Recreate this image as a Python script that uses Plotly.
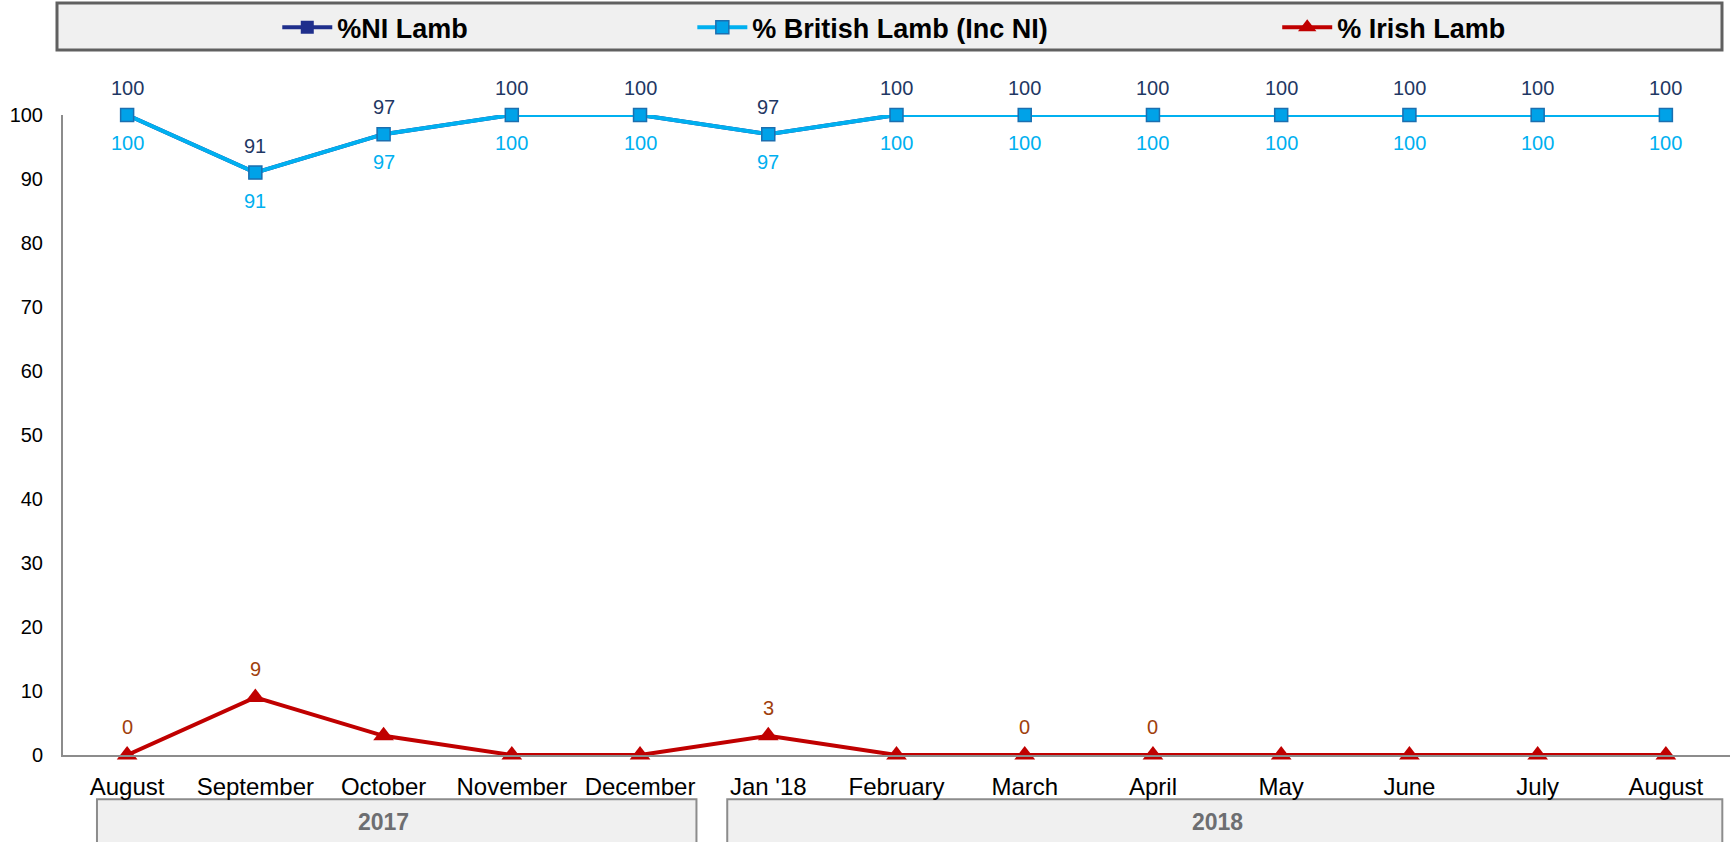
import plotly.graph_objects as go

# data
months = ["August", "September", "October", "November", "December", "Jan '18",
          "February", "March", "April", "May", "June", "July", "August"]
ni_lamb = [100, 91, 97, 100, 100, 97, 100, 100, 100, 100, 100, 100, 100]
british_lamb = [100, 91, 97, 100, 100, 97, 100, 100, 100, 100, 100, 100, 100]
irish_lamb = [0, 9, 3, 0, 0, 3, 0, 0, 0, 0, 0, 0, 0]
irish_labelled = [True, True, False, False, False, True, False, True, True, False, False, False, False]
years = ["2017", "2018"]
year_spans = [(0, 4), (5, 12)]

FONT = "Arial, Liberation Sans, sans-serif"
NAVY = "#1F2F8C"
SKY = "#00B0F0"
RED = "#C00000"

xs = list(range(len(months)))

fig = go.Figure()

fig.add_trace(go.Scatter(
    x=xs, y=ni_lamb, name="%NI Lamb", mode="lines+markers",
    line=dict(color=NAVY, width=4),
    marker=dict(symbol="square", size=13, color=NAVY),
    cliponaxis=False, legend="legend"
))
fig.add_trace(go.Scatter(
    x=xs, y=british_lamb, name="% British Lamb (Inc NI)", mode="lines+markers",
    line=dict(color=SKY, width=4),
    marker=dict(symbol="square", size=13, color="#00A2E8", line=dict(color="#1B6FB0", width=1.5)),
    cliponaxis=False, legend="legend2"
))
fig.add_trace(go.Scatter(
    x=xs, y=irish_lamb, name="% Irish Lamb", mode="lines+markers",
    line=dict(color=RED, width=4),
    marker=dict(symbol="triangle-up", size=18, color=RED),
    cliponaxis=False, legend="legend3"
))

# data labels
annotations = []
for i, v in enumerate(ni_lamb):
    annotations.append(dict(x=i, y=v, xref="x", yref="y", text=str(v), showarrow=False,
                            yshift=27, font=dict(family=FONT, size=20, color="#1F3864")))
for i, v in enumerate(british_lamb):
    annotations.append(dict(x=i, y=v, xref="x", yref="y", text=str(v), showarrow=False,
                            yshift=-28, font=dict(family=FONT, size=20, color=SKY)))
for i, v in enumerate(irish_lamb):
    if irish_labelled[i]:
        annotations.append(dict(x=i, y=v, xref="x", yref="y", text=str(v), showarrow=False,
                                yshift=28, font=dict(family=FONT, size=20, color="#A0400C")))

# year boxes under the month axis
shapes = []
left_pad = [0.235, 0.32]
for (a, b), yr, lp in zip(year_spans, years, left_pad):
    shapes.append(dict(type="rect", xref="x", yref="paper", x0=a - lp, x1=b + 0.44,
                       y0=-0.069, y1=-0.16, fillcolor="#F0F0F0",
                       line=dict(color="#8C8C8C", width=2), layer="below"))
    annotations.append(dict(x=(a + b) / 2, y=-0.105, xref="x", yref="paper", yanchor="middle",
                            text="<b>%s</b>" % yr, showarrow=False,
                            font=dict(family=FONT, size=23, color="#6D6E71")))

# legend frame
shapes.append(dict(type="rect", xref="paper", yref="paper", x0=-0.0036, x1=0.9952,
                   y0=1.1016, y1=1.175, fillcolor="#F0F0F0",
                   line=dict(color="#606060", width=3), layer="below"))

legend_style = dict(orientation="h", xref="container", yref="container", yanchor="middle",
                    y=0.967, bgcolor="rgba(0,0,0,0)", itemwidth=50,
                    font=dict(family=FONT, size=27, color="black", weight="bold"))

fig.update_layout(
    width=1733, height=842,
    margin=dict(l=63, r=3, t=115, b=87),
    paper_bgcolor="white", plot_bgcolor="white",
    font=dict(family=FONT, color="black"),
    showlegend=True,
    legend=dict(legend_style, x=0.160),
    legend2=dict(legend_style, x=0.3995),
    legend3=dict(legend_style, x=0.737),
    xaxis=dict(
        tickmode="array", tickvals=xs, ticktext=months,
        range=[-0.5, len(months) - 0.5], showgrid=False, zeroline=False,
        showline=True, linecolor="#8C8C8C", linewidth=2, ticks="",
        tickfont=dict(family=FONT, size=24, color="black"), ticklabelstandoff=9
    ),
    yaxis=dict(
        range=[0, 100], dtick=10, showgrid=False, zeroline=False,
        showline=True, linecolor="#8C8C8C", linewidth=2, ticks="",
        tickfont=dict(family=FONT, size=20, color="black"), ticklabelstandoff=14
    ),
    shapes=shapes,
    annotations=annotations,
)

fig.write_html("out.html", config={"displayModeBar": False},
               post_script="document.body.style.margin='0';")
